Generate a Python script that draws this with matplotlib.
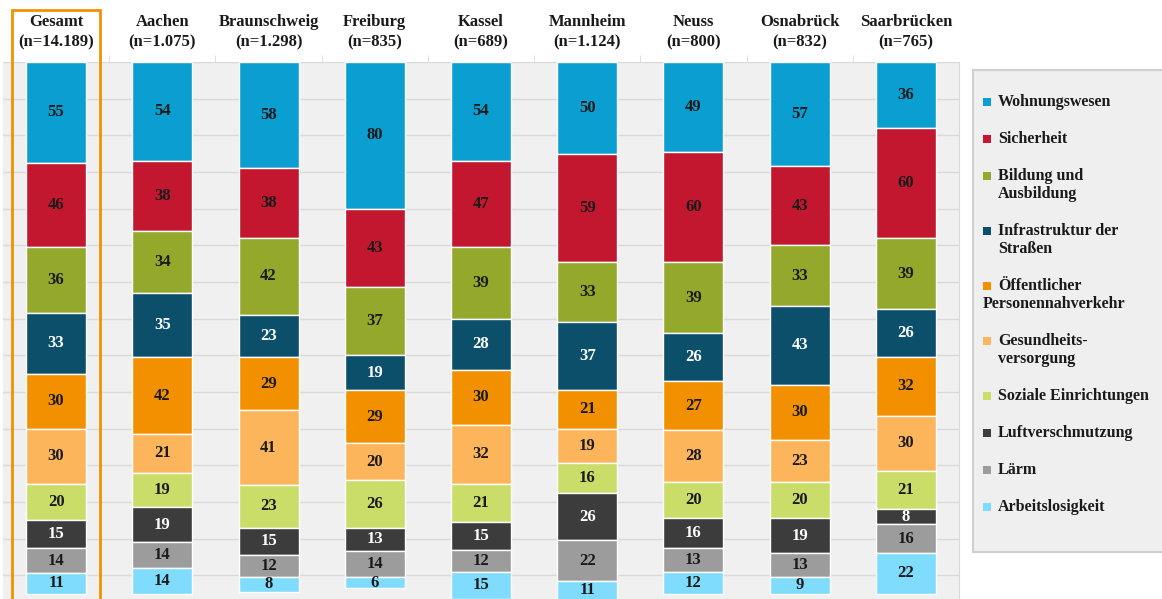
import matplotlib
matplotlib.use("Agg")
import matplotlib.pyplot as plt
from matplotlib.patches import Rectangle
import numpy as np

# Städte und Stichprobengröße
cities = ["Gesamt", "Aachen", "Braunschweig", "Freiburg", "Kassel",
          "Mannheim", "Neuss", "Osnabrück", "Saarbrücken"]
sample_n = ["14.189", "1.075", "1.298", "835", "689", "1.124", "800", "832", "765"]

# Themen (Reihenfolge von oben nach unten im Stapel)
topics = ["Wohnungswesen", "Sicherheit", "Bildung und\nAusbildung",
          "Infrastruktur der\nStraßen", "Öffentlicher\nPersonennahverkehr",
          "Gesundheits-\nversorgung", "Soziale Einrichtungen",
          "Luftverschmutzung", "Lärm", "Arbeitslosigkeit"]

wohnungswesen = [55, 54, 58, 80, 54, 50, 49, 57, 36]
sicherheit = [46, 38, 38, 43, 47, 59, 60, 43, 60]
bildung = [36, 34, 42, 37, 39, 33, 39, 33, 39]
infrastruktur = [33, 35, 23, 19, 28, 37, 26, 43, 26]
oepnv = [30, 42, 29, 29, 30, 21, 27, 30, 32]
gesundheit = [30, 21, 41, 20, 32, 19, 28, 23, 30]
soziales = [20, 19, 23, 26, 21, 16, 20, 20, 21]
luft = [15, 19, 15, 13, 15, 26, 16, 19, 8]
laerm = [14, 14, 12, 14, 12, 22, 13, 13, 16]
arbeitslos = [11, 14, 8, 6, 15, 11, 12, 9, 22]

series = [wohnungswesen, sicherheit, bildung, infrastruktur, oepnv,
          gesundheit, soziales, luft, laerm, arbeitslos]
colors = ["#0a9fd0", "#c2172f", "#94a82c", "#0b4f6b", "#f39000",
          "#fdb55c", "#c9dd68", "#3c3c3c", "#9c9c9c", "#80dcfd"]
label_colors = ["#1a1a1a", "#1a1a1a", "#1a1a1a", "white", "#1a1a1a",
                "#1a1a1a", "#1a1a1a", "white", "#1a1a1a", "#1a1a1a"]

W, H = 1162, 599
fig = plt.figure(figsize=(W / 100, H / 100), dpi=100)
fig.patch.set_facecolor("white")
serif = "Liberation Serif"

ax = fig.add_axes([3 / W, 0, (959 - 3) / W, 1 - 62 / H])
ax.set_facecolor("#f0f0f0")

x = np.arange(len(cities))
bottom = np.zeros(len(cities))
for vals, col, lcol in zip(series, colors, label_colors):
    bars = ax.bar(x, vals, 0.565, bottom=bottom, color=col,
                  edgecolor="white", linewidth=1, zorder=3)
    ax.bar_label(bars, label_type="center", color=lcol, fontsize=12,
                 fontweight="bold", family=serif)
    bottom += np.array(vals)

ax.set_xlim(-0.5, len(cities) - 0.5)
ax.set_ylim(293, 0)
ax.set_yticks(np.arange(0, 293, 20))
ax.yaxis.grid(True, color="#d9d9d9", linewidth=1, zorder=0)
ax.tick_params(axis="y", length=0, labelleft=False)
ax.xaxis.tick_top()
ax.set_xticks(x)
ax.set_xticklabels([f"{c}\n(n={n})" for c, n in zip(cities, sample_n)],
                   fontsize=12, fontweight="bold", family=serif,
                   color="#1a1a1a", linespacing=1.4)
ax.set_xticks(np.arange(0.5, len(cities) - 0.5, 1), minor=True)
ax.tick_params(axis="x", which="major", length=0, pad=8)
ax.tick_params(axis="x", which="minor", length=5, color="#d9d9d9", top=True)
for s in ["left", "bottom", "top"]:
    ax.spines[s].set_visible(False)
ax.spines["right"].set_color("#d9d9d9")

# Rahmen um "Gesamt"
fig.patches.append(Rectangle((12 / W, -0.01), 88 / W, (H - 10) / H + 0.01,
                             transform=fig.transFigure, fill=False,
                             edgecolor="#f39200", linewidth=2, zorder=10))

# Legende
fig.patches.append(Rectangle((973 / W, 1 - 552 / H), (1170 - 973) / W, (552 - 70) / H,
                             transform=fig.transFigure, facecolor="#efefef",
                             edgecolor="#cfcfcf", linewidth=1.5, zorder=1))
y = 102
for name, col in zip(topics, colors):
    fig.patches.append(Rectangle((983 / W, 1 - (y + 4) / H), 8 / W, 8 / H,
                                 transform=fig.transFigure, facecolor=col,
                                 edgecolor="none", zorder=2))
    lines = name.split("\n")
    if name.startswith("Öffentlicher"):
        fig.text(998 / W, 1 - y / H, lines[0], fontsize=11.5, fontweight="bold",
                 family=serif, va="center", ha="left", color="#1a1a1a")
        fig.text(983 / W, 1 - (y + 18) / H, lines[1], fontsize=11.5,
                 fontweight="bold", family=serif, va="center", ha="left",
                 color="#1a1a1a")
    else:
        for i, ln in enumerate(lines):
            fig.text(998 / W, 1 - (y + 18 * i) / H, ln, fontsize=11.5,
                     fontweight="bold", family=serif, va="center", ha="left",
                     color="#1a1a1a")
    y += 37 + 18 * (len(lines) - 1)

fig.savefig("out.png", dpi=100)
